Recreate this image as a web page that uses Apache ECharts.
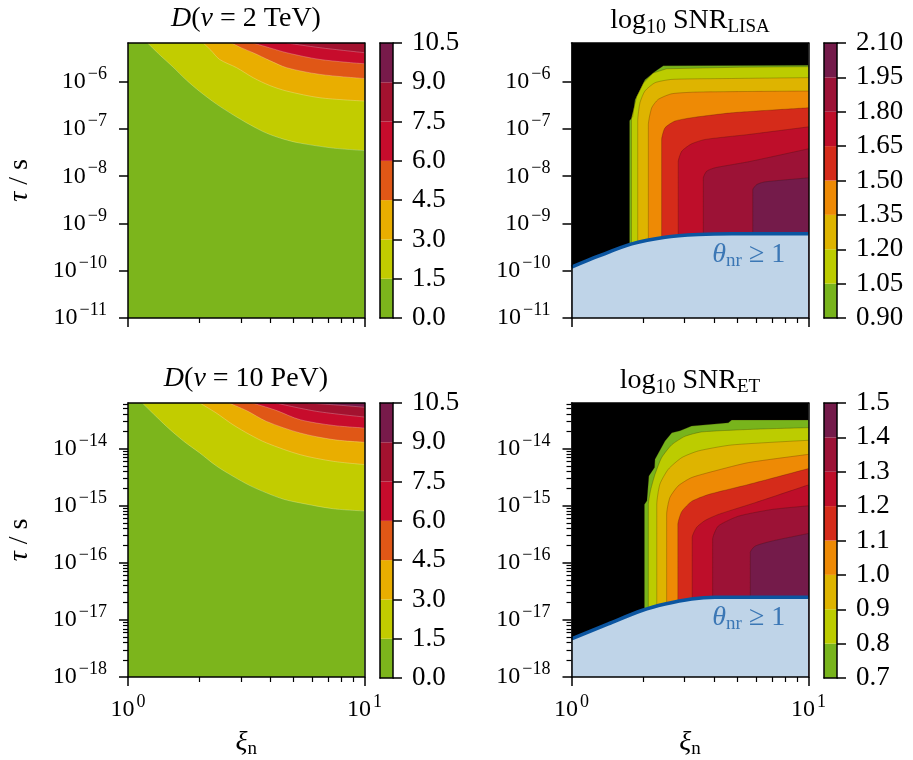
<!DOCTYPE html>
<html><head><meta charset="utf-8">
<script src="https://cdn.jsdelivr.net/npm/echarts@6/dist/echarts.min.js"></script>
<style>html,body{margin:0;padding:0;background:#fff}#c{width:913px;height:760px}</style>
</head><body><div id="c"></div>
<script>
// ---------------- data ----------------
const xiRange = [1, 10];
const tauRangeTop = [1e-11, 6.6e-6];
const tauRangeBottom = [1e-18, 6.3e-14];

const levelsD = [0.0, 1.5, 3.0, 4.5, 6.0, 7.5, 9.0, 10.5];
const levelsLISA = [0.90, 1.05, 1.20, 1.35, 1.50, 1.65, 1.80, 1.95, 2.10];
const levelsET = [0.7, 0.8, 0.9, 1.0, 1.1, 1.2, 1.3, 1.4, 1.5];

const colorsD = ['#7cb51c', '#c2cc00', '#e9ae00', '#e05716', '#c70c2c', '#a3122f', '#771a4a'];
const colorsSNR = ['#78b41c', '#bccc00', '#deb400', '#ee8a05', '#d52b1a', '#be0e2a', '#9c1236', '#741b4a'];

// D(v = 2 TeV) contour lines [xi, tau/s] for levels 1.5, 3.0, 4.5, 6.0, 7.5
const D2TeV_1p5 = [[1.21,6.6e-6],[1.37,3.6e-6],[1.55,2.05e-6],[1.76,1.1e-6],[2.01,6.22e-7],[2.36,3.4e-7],[2.78,2.0e-7],[3.28,1.23e-7],[3.85,8.18e-8],[4.55,6.1e-8],[5.34,5.02e-8],[7.38,3.94e-8],[10,3.5e-8]];
const D2TeV_3p0 = [[2.08,6.6e-6],[2.24,4.64e-6],[2.44,2.96e-6],[2.88,1.98e-6],[3.38,1.22e-6],[3.98,8.3e-7],[4.69,6.35e-7],[6.48,4.58e-7],[10,3.9e-7]];
const D2TeV_4p5 = [[2.74,6.6e-6],[3.02,5.2e-6],[3.38,4.11e-6],[3.98,2.8e-6],[4.69,1.98e-6],[6.48,1.43e-6],[10,1.17e-6]];
const D2TeV_6p0 = [[3.38,6.6e-6],[3.98,5.2e-6],[4.69,4.11e-6],[6.48,2.96e-6],[10,2.40e-6]];
const D2TeV_7p5 = [[4.69,6.6e-6],[6.48,5.25e-6],[10,4.11e-6]];

// D(v = 10 PeV) contour lines for levels 1.5 ... 9.0
const D10PeV_1p5 = [[1.15,6.3e-14],[1.455,2.45e-14],[1.72,1.35e-14],[2.01,8.41e-15],[2.36,5.0e-15],[2.78,3.28e-15],[3.28,2.25e-15],[3.85,1.68e-15],[4.55,1.3e-15],[5.34,1.12e-15],[7.38,8.85e-16],[10,8.09e-16]];
const D10PeV_3p0 = [[2.01,6.3e-14],[2.35,4.26e-14],[2.78,2.62e-14],[3.28,1.75e-14],[3.85,1.26e-14],[5.34,7.85e-15],[7.38,6.0e-15],[10,5.26e-15]];
const D10PeV_4p5 = [[2.67,6.3e-14],[3.18,4.61e-14],[3.85,3.0e-14],[5.34,1.88e-14],[7.38,1.44e-14],[10,1.29e-14]];
const D10PeV_6p0 = [[3.36,6.3e-14],[4.22,4.70e-14],[5.34,3.21e-14],[7.38,2.55e-14],[10,2.30e-14]];
const D10PeV_7p5 = [[4.22,6.3e-14],[6.28,4.49e-14],[10,3.58e-14]];
const D10PeV_9p0 = [[5.77,6.3e-14],[7.88,5.75e-14],[10,5.31e-14]];

// log10 SNR_LISA contour lines for levels 0.90 ... 1.95
const LISA_0p90 = [[1.757,1e-11],[1.757,1.49e-7],[1.812,1.84e-7],[1.853,4.16e-7],[1.945,6.78e-7],[2.04,1.10e-6],[2.25,1.65e-6],[2.44,2.18e-6],[10,2.24e-6]];
const LISA_1p05 = [[1.791,1e-11],[1.791,1.73e-7],[1.884,4.89e-7],[2.01,9.37e-7],[2.21,1.53e-6],[2.52,1.88e-6],[5.14,2.03e-6],[10,2.08e-6]];
const LISA_1p20 = [[1.903,1e-11],[1.903,1.49e-7],[1.945,3.59e-7],[2.04,6.35e-7],[2.25,9.52e-7],[2.65,1.12e-6],[4.74,1.17e-6],[10,1.22e-6]];
const LISA_1p35 = [[2.11,1e-11],[2.11,1.23e-7],[2.18,2.81e-7],[2.32,4.22e-7],[2.65,5.57e-7],[3.43,6.05e-7],[10,6.35e-7]];
const LISA_1p50 = [[2.40,1e-11],[2.40,5.9e-8],[2.48,1.06e-7],[2.73,1.47e-7],[3.21,1.73e-7],[4.74,2.2e-7],[10,2.81e-7]];
const LISA_1p65 = [[2.82,1e-11],[2.82,2.02e-8],[2.92,3.4e-8],[3.21,4.85e-8],[3.66,6.0e-8],[5.57,7.64e-8],[10,1.11e-7]];
const LISA_1p80 = [[3.60,1e-11],[3.60,9.25e-9],[3.72,1.28e-8],[4.03,1.51e-8],[5.57,2.02e-8],[10,3.81e-8]];
const LISA_1p95 = [[5.82,1e-11],[5.82,5.15e-9],[6.05,6.67e-9],[6.55,7.6e-9],[10,9.25e-9]];
const LISA_theta = [[1,1.19e-10],[1.297,2.03e-10],[1.795,3.70e-10],[2.48,5.13e-10],[3.43,5.82e-10],[4.74,6.03e-10],[10,6.03e-10]];

// log10 SNR_ET contour lines for levels 0.7 ... 1.4
const ET_0p7 = [[2.03,1e-18],[2.03,1.05e-15],[2.08,1.22e-15],[2.12,3.33e-15],[2.24,4.66e-15],[2.25,6.5e-15],[2.48,1.36e-14],[2.65,1.90e-14],[2.87,2.06e-14],[3.21,2.49e-14],[4.59,2.84e-14],[4.74,3.17e-14],[10,3.17e-14]];
const ET_0p8 = [[2.11,1e-18],[2.11,1.05e-15],[2.16,1.92e-15],[2.25,3.52e-15],[2.40,6.95e-15],[2.65,1.17e-14],[3.01,1.64e-14],[3.54,1.96e-14],[5.95,2.19e-14],[10,2.33e-14]];
const ET_0p9 = [[2.29,1e-18],[2.29,1.05e-15],[2.36,2.38e-15],[2.56,4.35e-15],[2.92,6.97e-15],[3.43,9.12e-15],[4.74,1.16e-14],[10,1.40e-14]];
const ET_1p0 = [[2.52,1e-18],[2.52,7.03e-16],[2.60,1.39e-15],[2.82,2.23e-15],[3.21,3.11e-15],[4.03,4.08e-15],[5.57,5.69e-15],[10,7.94e-15]];
const ET_1p1 = [[2.81,1e-18],[2.81,4.70e-16],[2.92,7.94e-16],[3.21,1.19e-15],[3.78,1.57e-15],[5.57,2.35e-15],[10,4.48e-15]];
const ET_1p2 = [[3.23,1e-18],[3.23,2.79e-16],[3.37,4.17e-16],[3.66,5.52e-16],[4.16,7.03e-16],[5.95,1.13e-15],[10,2.32e-15]];
const ET_1p3 = [[3.94,1e-18],[3.94,2.57e-16],[4.16,4.40e-16],[5.06,6.56e-16],[6.99,8.59e-16],[10,9.97e-16]];
const ET_1p4 = [[5.68,1e-18],[5.68,1.52e-16],[5.95,1.96e-16],[6.99,2.40e-16],[10,3.27e-16]];
const ET_theta = [[1,4.67e-18],[1.43,8.53e-18],[1.98,1.46e-17],[2.48,1.9e-17],[3.21,2.33e-17],[4.03,2.49e-17],[10,2.49e-17]];

const thetaLabelLISA = [5.6, 2.2e-10];
const thetaLabelET = [5.6, 1.1e-17];

// ---------------- chart ----------------
const FONT = 'Liberation Serif';
const AX = {color:'#000', width:1.5};
const tickRich = {
  b:{fontFamily:FONT, fontSize:24, color:'#000'},
  s:{fontFamily:FONT, fontSize:18, color:'#000', padding:[0,0,15,2]}
};
const nameRich = {
  i:{fontFamily:FONT, fontSize:28, fontStyle:'italic', color:'#000'},
  r:{fontFamily:FONT, fontSize:28, color:'#000'},
  sub:{fontFamily:FONT, fontSize:19, color:'#000', padding:[13,0,0,0]}
};
const titleRich = {
  r:{fontFamily:FONT, fontSize:28, color:'#000'},
  i:{fontFamily:FONT, fontSize:28, fontStyle:'italic', color:'#000'},
  sub:{fontFamily:FONT, fontSize:20, color:'#000', padding:[13,0,0,0]},
  sc:{fontFamily:FONT, fontSize:19, color:'#000', padding:[13,0,0,0]}
};

const option = {animation:false, backgroundColor:'#ffffff', grid:[], xAxis:[], yAxis:[], series:[], graphic:[]};

function toLog(pts){ return pts.map(p => [Math.log10(p[0]), Math.log10(p[1])]); }
function supLabel(v){ const n = Math.round(v); return '{b|10}{s|' + (n < 0 ? '\u2212' : '') + Math.abs(n) + '}'; }
function lineAxis(gi, pos, min, max){
  return {gridIndex:gi, type:'value', position:pos, min:min, max:max, z:10,
    axisLine:{show:true, onZero:false, lineStyle:AX}, axisTick:{show:false},
    axisLabel:{show:false}, splitLine:{show:false}};
}

function addMain(r, yr, opts){
  const gi = option.grid.length;
  option.grid.push({left:r.left, top:r.top, width:r.width, height:r.height, show:true, backgroundColor:opts.bg, borderWidth:0});
  const x0 = Math.log10(xiRange[0]), x1 = Math.log10(xiRange[1]);
  const y0 = Math.log10(yr[0]), y1 = Math.log10(yr[1]);
  const xMaj = [x0, x1];
  const xMin = [2,3,4,5,6,7,8,9].map(k => Math.log10(k));
  const yMaj = []; for (let n = Math.ceil(y0 - 1e-9); n <= Math.floor(y1 + 1e-9); n++) yMaj.push(n);
  const yMin = [];
  if (opts.yMinor) for (let n = Math.floor(y0); n <= Math.ceil(y1); n++) for (let k = 2; k <= 9; k++) { const v = n + Math.log10(k); if (v > y0 && v < y1) yMin.push(v); }
  const xi = option.xAxis.length;
  option.xAxis.push({gridIndex:gi, type:'value', position:'bottom', min:x0, max:x1, z:10,
    axisLine:{show:true, onZero:false, lineStyle:AX},
    axisTick:{show:true, length:9, customValues:xMaj, lineStyle:AX},
    axisLabel:{show:!!opts.xLabels, customValues:xMaj, formatter:supLabel, rich:tickRich, margin:16},
    splitLine:{show:false},
    name: opts.xLabels ? '{i|\u03be}{sub|n}' : '', nameLocation:'middle', nameGap:50,
    nameTextStyle:{rich:nameRich}});
  option.xAxis.push({gridIndex:gi, type:'value', position:'bottom', min:x0, max:x1, z:10,
    axisLine:{show:false}, axisTick:{show:true, length:5, customValues:xMin, lineStyle:{color:'#000', width:1.2}},
    axisLabel:{show:false}, splitLine:{show:false}});
  option.xAxis.push(lineAxis(gi, 'top', x0, x1));
  const yi = option.yAxis.length;
  option.yAxis.push({gridIndex:gi, type:'value', position:'left', min:y0, max:y1, z:10,
    axisLine:{show:true, onZero:false, lineStyle:AX},
    axisTick:{show:true, length:9, customValues:yMaj, lineStyle:AX},
    axisLabel:{show:true, customValues:yMaj, formatter:supLabel, rich:tickRich, margin:21},
    splitLine:{show:false},
    name: opts.yName ? '{i|\u03c4}{r|\u2005/\u2005s}' : '', nameLocation:'middle', nameRotate:90, nameGap:94,
    nameTextStyle:{rich:nameRich}});
  if (yMin.length) option.yAxis.push({gridIndex:gi, type:'value', position:'left', min:y0, max:y1, z:10,
    axisLine:{show:false}, axisTick:{show:true, length:5, customValues:yMin, lineStyle:{color:'#000', width:1.2}},
    axisLabel:{show:false}, splitLine:{show:false}});
  option.yAxis.push(lineAxis(gi, 'right', y0, y1));
  return {xi:xi, yi:yi};
}

function addColorbar(r, levels, colors, digits){
  const gi = option.grid.length;
  option.grid.push({left:r.cbLeft, top:r.top, width:13, height:r.height, show:false});
  const xi = option.xAxis.length;
  option.xAxis.push(lineAxis(gi, 'bottom', 0, 1));
  option.xAxis.push(lineAxis(gi, 'top', 0, 1));
  const yi = option.yAxis.length;
  const lo = levels[0], hi = levels[levels.length - 1];
  option.yAxis.push({gridIndex:gi, type:'value', position:'right', min:lo, max:hi, z:10,
    axisLine:{show:true, onZero:false, lineStyle:AX},
    axisTick:{show:true, length:9, customValues:levels, lineStyle:AX},
    axisLabel:{show:true, customValues:levels, formatter:v => v.toFixed(digits), fontFamily:FONT, fontSize:27, color:'#000', margin:19},
    splitLine:{show:false}});
  option.yAxis.push(lineAxis(gi, 'left', lo, hi));
  option.series.push({type:'custom', xAxisIndex:xi, yAxisIndex:yi, silent:true, clip:true,
    data: colors.map((c, i) => [0.5, levels[i], levels[i + 1], i]),
    renderItem: function(params, api){
      const pLo = api.coord([0, api.value(1)]);
      const pHi = api.coord([1, api.value(2)]);
      return {type:'rect', shape:{x:pLo[0], y:pHi[1], width:pHi[0] - pLo[0], height:pLo[1] - pHi[1]},
        style:{fill: colors[api.value(3)], stroke:null}};
    }});
}

function contour(ax, pts, color, origin, lineColor, smooth){
  option.series.push({type:'line', xAxisIndex:ax.xi, yAxisIndex:ax.yi, data:toLog(pts), z:2,
    showSymbol:false, symbol:'none', silent:true, smooth:smooth, clip:true,
    lineStyle:{color:lineColor, width:0.7}, areaStyle:{color:color, opacity:1, origin:origin}});
}
function theta(ax, pts, labelPt){
  option.series.push({type:'line', xAxisIndex:ax.xi, yAxisIndex:ax.yi, data:toLog(pts), z:4,
    showSymbol:false, symbol:'none', silent:true, smooth:0.3, clip:true,
    lineStyle:{color:'#0b55a0', width:3.5}, areaStyle:{color:'#bfd4e8', opacity:1, origin:'start'}});
  option.series.push({type:'scatter', xAxisIndex:ax.xi, yAxisIndex:ax.yi, data:toLog([labelPt]), z:5,
    symbolSize:1, itemStyle:{color:'rgba(0,0,0,0)'}, silent:true,
    label:{show:true, position:'inside', formatter:'{t|\u03b8}{s|nr}{r| \u2265 1}',
      rich:{t:{fontFamily:FONT, fontSize:28, fontStyle:'italic', color:'#1a5fa8'},
            s:{fontFamily:FONT, fontSize:19, color:'#1a5fa8', padding:[12,0,0,0]},
            r:{fontFamily:FONT, fontSize:28, color:'#1a5fa8'}}}});
}
function title(x, y, text){
  option.graphic.push({type:'text', x:x, y:y, silent:true,
    style:{text:text, rich:titleRich, fontFamily:FONT, fontSize:28, fill:'#000',
      align:'center', verticalAlign:'middle', textAlign:'center', textVerticalAlign:'middle'}});
}

const R = {
  TL:{left:128, top:43, width:236.5, height:275, cbLeft:380},
  TR:{left:571.5, top:43, width:237, height:275, cbLeft:824},
  BL:{left:128, top:403, width:236.5, height:275, cbLeft:380},
  BR:{left:571.5, top:403, width:237, height:275, cbLeft:824}
};

// top left
let ax = addMain(R.TL, tauRangeTop, {bg:colorsD[0], yName:true});
[D2TeV_1p5, D2TeV_3p0, D2TeV_4p5, D2TeV_6p0, D2TeV_7p5].forEach((c, k) =>
  contour(ax, c, colorsD[k + 1], 'end', 'rgba(255,255,255,0.35)', 0.3));
addColorbar(R.TL, levelsD, colorsD, 1);

// top right
ax = addMain(R.TR, tauRangeTop, {bg:'#000000'});
[LISA_0p90, LISA_1p05, LISA_1p20, LISA_1p35, LISA_1p50, LISA_1p65, LISA_1p80, LISA_1p95].forEach((c, k) =>
  contour(ax, c, colorsSNR[k], 'start', 'rgba(40,20,0,0.35)', k < 2 ? 0 : 0.2));
theta(ax, LISA_theta, thetaLabelLISA);
addColorbar(R.TR, levelsLISA, colorsSNR, 2);

// bottom left
ax = addMain(R.BL, tauRangeBottom, {bg:colorsD[0], yName:true, yMinor:true, xLabels:true});
[D10PeV_1p5, D10PeV_3p0, D10PeV_4p5, D10PeV_6p0, D10PeV_7p5, D10PeV_9p0].forEach((c, k) =>
  contour(ax, c, colorsD[k + 1], 'end', 'rgba(255,255,255,0.35)', 0.3));
addColorbar(R.BL, levelsD, colorsD, 1);

// bottom right
ax = addMain(R.BR, tauRangeBottom, {bg:'#000000', yMinor:true, xLabels:true});
[ET_0p7, ET_0p8, ET_0p9, ET_1p0, ET_1p1, ET_1p2, ET_1p3, ET_1p4].forEach((c, k) =>
  contour(ax, c, colorsSNR[k], 'start', 'rgba(40,20,0,0.35)', k < 1 ? 0 : 0.2));
theta(ax, ET_theta, thetaLabelET);
addColorbar(R.BR, levelsET, colorsSNR, 1);

title(246, 19, '{i|D}{r|(}{i|v}{r| = 2 TeV)}');
title(690, 21, '{r|log}{sub|10}{r| SNR}{sc|LISA}');
title(246, 379, '{i|D}{r|(}{i|v}{r| = 10 PeV)}');
title(690, 381, '{r|log}{sub|10}{r| SNR}{sc|ET}');

const chart = echarts.init(document.getElementById('c'), null, {renderer:'canvas'});
chart.setOption(option);
</script>
</body></html>
